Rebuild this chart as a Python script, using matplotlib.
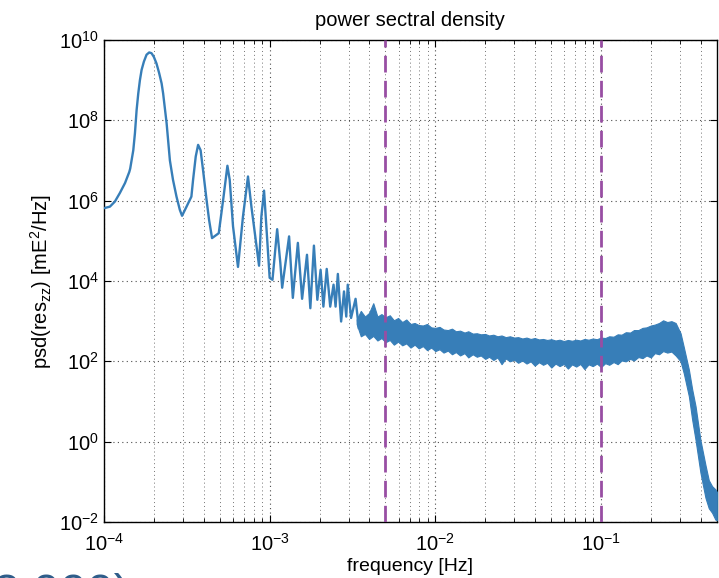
import numpy as np
import matplotlib
matplotlib.use("Agg")
import matplotlib.pyplot as plt
from matplotlib.ticker import LogLocator, NullLocator, LogFormatterMathtext

plt.rcParams['font.family'] = ['Liberation Sans', 'DejaVu Sans']
plt.rcParams['mathtext.fontset'] = 'custom'
plt.rcParams['mathtext.rm'] = 'Liberation Sans'
plt.rcParams['mathtext.it'] = 'Liberation Sans:italic'

# low-frequency part: resolved peaks
freq = [1.0e-4, 1.086e-4, 1.164e-4, 1.247e-4, 1.34e-4, 1.422e-4, 1.44e-4, 1.503e-4, 1.538e-4,
        1.574e-4, 1.611e-4, 1.648e-4, 1.687e-4, 1.742e-4, 1.807e-4, 1.875e-4, 1.936e-4,
        2.0e-4, 2.075e-4, 2.153e-4, 2.228e-4, 2.275e-4, 2.388e-4, 2.50e-4, 2.61e-4,
        2.74e-4, 2.87e-4, 2.96e-4, 3.15e-4, 3.37e-4, 3.45e-4, 3.58e-4, 3.70e-4, 3.83e-4,
        3.96e-4, 4.16e-4, 4.31e-4, 4.49e-4, 4.93e-4, 5.24e-4, 5.56e-4, 5.74e-4, 6.01e-4,
        6.44e-4, 6.90e-4, 7.40e-4, 7.76e-4, 8.63e-4, 8.91e-4, 9.25e-4, 9.55e-4,
        1.0e-3, 1.04e-3, 1.11e-3, 1.16e-3, 1.19e-3, 1.31e-3, 1.38e-3, 1.48e-3, 1.57e-3,
        1.68e-3, 1.76e-3, 1.85e-3, 1.94e-3, 2.03e-3, 2.11e-3, 2.21e-3, 2.32e-3, 2.43e-3,
        2.50e-3, 2.58e-3, 2.70e-3, 2.81e-3, 2.90e-3, 2.96e-3, 3.10e-3, 3.30e-3, 3.45e-3]
psd = [6.5e5, 7.1e5, 9.5e5, 1.55e6, 2.75e6, 5.2e6, 6.3e6, 1.8e7, 4.8e7,
       1.8e8, 4.7e8, 1.0e9, 1.8e9, 2.9e9, 4.3e9, 4.9e9, 4.7e9,
       3.8e9, 2.6e9, 1.5e9, 8.3e8, 4.7e8, 8.5e7, 1.0e7, 3.3e6,
       1.26e6, 5.9e5, 4.2e5, 7.1e5, 1.26e6, 3.3e6, 1.26e7, 2.45e7, 1.8e7,
       5.9e6, 1.05e6, 3.3e5, 1.17e5, 1.55e5, 1.05e6, 7.4e6, 3.3e6, 2.3e5,
       2.24e4, 4.0e5, 4.0e6, 7.1e5, 2.4e4, 4.0e5, 1.78e6, 2.3e5,
       1.2e4, 1.07e4, 1.95e5, 2.8e4, 6.8e3, 1.29e5, 3.8e3, 8.9e4, 3.6e3,
       4.5e4, 2.1e3, 7.6e4, 3.4e3, 1.9e4, 2.3e3, 2.0e4, 2.3e3, 8.1e3,
       2.3e3, 1.5e4, 980, 5.5e3, 1.3e3, 8.1e3, 1.2e3, 3.6e3, 680]

# high-frequency part: noisy band, upper and lower edges
band_f = [3.35e-3, 3.55e-3, 3.76e-3, 3.98e-3, 4.22e-3, 4.47e-3, 4.73e-3, 5.01e-3, 5.31e-3, 5.62e-3,
          5.96e-3, 6.31e-3, 6.68e-3, 7.08e-3, 7.50e-3, 7.94e-3, 8.41e-3, 8.91e-3, 9.44e-3, 1.00e-2,
          1.06e-2, 1.12e-2, 1.19e-2, 1.26e-2, 1.33e-2, 1.41e-2, 1.50e-2, 1.58e-2, 1.68e-2, 1.78e-2,
          1.88e-2, 2.00e-2, 2.11e-2, 2.24e-2, 2.37e-2, 2.51e-2, 2.66e-2, 2.82e-2, 2.99e-2, 3.16e-2,
          3.35e-2, 3.55e-2, 3.76e-2, 3.98e-2, 4.22e-2, 4.47e-2, 4.73e-2, 5.01e-2, 5.31e-2, 5.62e-2,
          5.96e-2, 6.31e-2, 6.68e-2, 7.08e-2, 7.50e-2, 7.94e-2, 8.41e-2, 8.91e-2, 9.44e-2, 0.100,
          0.106, 0.112, 0.119, 0.126, 0.133, 0.141, 0.150, 0.158, 0.168, 0.178,
          0.188, 0.200, 0.211, 0.224, 0.237, 0.251, 0.266, 0.282,
          0.302, 0.316, 0.339, 0.355, 0.372, 0.398, 0.427, 0.447, 0.468, 0.490, 0.500]
band_hi = [1100, 1800, 1300, 1600, 2800, 1300, 1500, 1250, 1400, 1050,
           1200, 950, 1100, 850, 900, 800, 780, 850, 700, 680,
           720, 620, 600, 650, 560, 580, 520, 560, 490, 500,
           470, 480, 440, 460, 420, 440, 400, 420, 390, 400,
           370, 390, 360, 380, 350, 360, 340, 355, 330, 345,
           320, 340, 325, 345, 330, 360, 345, 370, 355, 390,
           380, 420, 410, 470, 460, 530, 520, 600, 600, 680,
           700, 780, 820, 900, 1050, 950, 1000, 900,
           501, 224, 62, 20, 7.6, 1.1, 0.26, 0.11, 0.078, 0.065, 0.056]
band_lo = [850, 420, 480, 360, 430, 330, 380, 300, 340, 260,
           310, 250, 280, 220, 260, 210, 240, 190, 220, 180,
           200, 165, 185, 150, 170, 140, 160, 125, 150, 130,
           140, 115, 130, 108, 125, 85, 118, 100, 110, 92,
           105, 88, 100, 78, 95, 82, 92, 70, 88, 76,
           86, 66, 84, 74, 86, 64, 84, 76, 88, 72,
           90, 82, 96, 85, 105, 100, 115, 105, 128, 120,
           140, 125, 160, 150, 180, 165, 175, 140,
           100, 50, 13.5, 3.5, 1.1, 0.17, 0.040, 0.022, 0.017, 0.0115, 0.011]

markers = [5e-3, 1e-1]

blue = '#377eb8'
purple = '#984ea3'

fig = plt.figure(figsize=(7.19, 5.78), dpi=100)
ax = fig.add_axes([0.1446, 0.0969, 0.8524, 0.8339])

ax.plot(freq, psd, color=blue, lw=1.7, zorder=3)
ax.fill_between(band_f, band_lo, band_hi, color=blue, lw=0.8, edgecolor=blue, zorder=3)
for m in markers:
    ax.axvline(m, color=purple, lw=2.0, ls=(0, (6, 3)), zorder=4)

ax.set_xscale('log')
ax.set_yscale('log')
ax.set_xlim(1e-4, 0.5)
ax.set_ylim(1e-2, 1e10)
ax.set_yticks([1e-2, 1e0, 1e2, 1e4, 1e6, 1e8, 1e10])
ax.yaxis.set_major_formatter(LogFormatterMathtext())
ax.yaxis.set_minor_locator(NullLocator())
ax.xaxis.set_major_locator(LogLocator(base=10))
ax.xaxis.set_minor_locator(LogLocator(base=10, subs=np.arange(2, 10)))

ax.tick_params(which='both', direction='in', top=True, right=True, labelsize=14.5)
ax.tick_params(which='major', length=5, width=0.8)
ax.tick_params(which='minor', length=3, width=0.6)
ax.tick_params(axis='x', pad=8)
ax.grid(True, which='major', ls=(0, (1, 3)), color='0.3', lw=0.8)
ax.grid(True, which='minor', axis='x', ls=(0, (1, 3)), color='0.45', lw=0.7)
for s in ax.spines.values():
    s.set_linewidth(1.0)

ax.set_title('power sectral density', fontsize=14.5, pad=10)
ax.set_xlabel('frequency [Hz]', fontsize=14, labelpad=2)
ax.set_ylabel(r'psd(res$_{\mathrm{zz}}$) [mE$^{2}$/Hz]', fontsize=14.5, labelpad=4)

# slide text cut off at the bottom edge
fig.text(-0.011, -0.052, '2.000)', fontsize=35, color='#2f5d8a', va='baseline')

fig.savefig('out.png', dpi=100)
